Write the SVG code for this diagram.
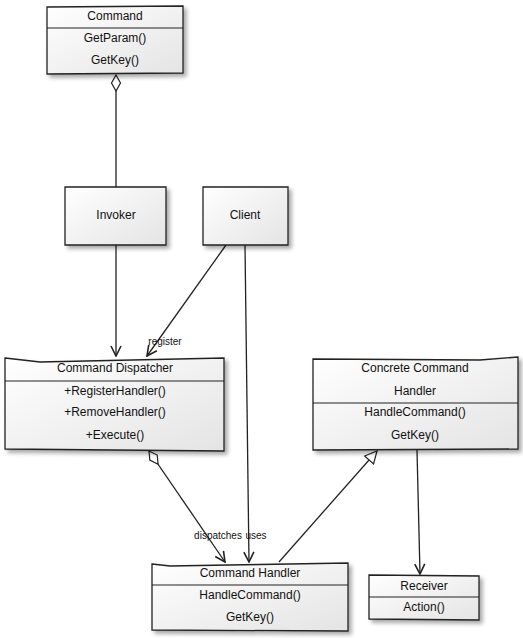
<svg xmlns="http://www.w3.org/2000/svg" width="523" height="638" viewBox="0 0 523 638">
<defs>
<linearGradient id="g" x1="0" y1="0" x2="1" y2="1">
<stop offset="0" stop-color="#ffffff"/>
<stop offset="1" stop-color="#e4e4e4"/>
</linearGradient>
<filter id="sh" x="-10%" y="-10%" width="130%" height="130%">
<feGaussianBlur in="SourceAlpha" stdDeviation="2"/>
<feOffset dx="3" dy="3"/>
<feComponentTransfer><feFuncA type="linear" slope="0.35"/></feComponentTransfer>
<feMerge><feMergeNode/><feMergeNode in="SourceGraphic"/></feMerge>
</filter>
<marker id="arr" viewBox="0 0 12 12" refX="11" refY="6" markerWidth="12" markerHeight="12" markerUnits="userSpaceOnUse" orient="auto">
<path d="M1,1 L11,6 L1,11" fill="none" stroke="#222" stroke-width="1.6"/>
</marker>
<marker id="tri" viewBox="0 0 14 14" refX="13" refY="7" markerWidth="14" markerHeight="14" markerUnits="userSpaceOnUse" orient="auto">
<path d="M1,1 L13,7 L1,13 Z" fill="#fff" stroke="#222" stroke-width="1.2"/>
</marker>
<marker id="dia" viewBox="0 0 20 12" refX="1" refY="6" markerWidth="20" markerHeight="12" markerUnits="userSpaceOnUse" orient="auto">
<path d="M1,6 L9,1.5 L17,6 L9,10.5 Z" fill="#fff" stroke="#222" stroke-width="1.2"/>
</marker>
</defs>
<style>
.box{fill:url(#g);stroke:#222;stroke-width:1.3;filter:url(#sh)}
.sep{stroke:#222;stroke-width:1.2}
text{font-family:"Liberation Sans","DejaVu Sans",sans-serif;font-size:12px;fill:#111;text-anchor:middle}
.lbl{font-size:10px}
.edge{fill:none;stroke:#222;stroke-width:1.3}
</style>
<g id="connectors">
<path class="edge" d="M116,75 L116,187" marker-start="url(#dia)"/>
<path class="edge" d="M116,245 L116,356" marker-end="url(#arr)"/>
<path class="edge" d="M226,245 L147,356" marker-end="url(#arr)"/>
<path class="edge" d="M245,245 L249,562" marker-end="url(#arr)"/>
<path class="edge" d="M149,451 L225,562" marker-start="url(#dia)" marker-end="url(#arr)"/>
<path class="edge" d="M279,562 L377,451" marker-end="url(#tri)"/>
<path class="edge" d="M417,450 L420,574" marker-end="url(#arr)"/>
<text class="lbl" x="165" y="345">register</text>
<text class="lbl" x="218" y="539">dispatches</text>
<text class="lbl" x="256" y="539">uses</text>
</g>
<g id="command">
<path class="box" d="M47,7 L183,6 L183,73 L47,74 Z"/>
<line class="sep" x1="47" y1="28" x2="183" y2="28"/>
<text x="115" y="20">Command</text>
<text x="115" y="42">GetParam()</text>
<text x="115" y="64">GetKey()</text>
</g>
<g id="invoker">
<path class="box" d="M65,187 L166,187 L166,245 L65,245 Z"/>
<text x="116" y="219">Invoker</text>
</g>
<g id="client">
<path class="box" d="M203,187 L288,187 L288,245 L203,245 Z"/>
<text x="245" y="219">Client</text>
</g>
<g id="dispatcher">
<path class="box" d="M5,358 L40,362 L224,358 L224,451 L5,449 Z"/>
<line class="sep" x1="5" y1="381" x2="224" y2="381"/>
<text x="115" y="372">Command Dispatcher</text>
<text x="115" y="395">+RegisterHandler()</text>
<text x="115" y="416">+RemoveHandler()</text>
<text x="115" y="439">+Execute()</text>
</g>
<g id="concrete">
<path class="box" d="M313,359 L480,360 L518,357 L518,449 L313,450 Z"/>
<line class="sep" x1="313" y1="403" x2="518" y2="403"/>
<text x="415" y="372">Concrete Command</text>
<text x="415" y="395">Handler</text>
<text x="415" y="416">HandleCommand()</text>
<text x="415" y="439">GetKey()</text>
</g>
<g id="handler">
<path class="box" d="M152,564 L170,566 L348,563 L348,631 L152,630 Z"/>
<line class="sep" x1="152" y1="585" x2="348" y2="585"/>
<text x="250" y="577">Command Handler</text>
<text x="250" y="599">HandleCommand()</text>
<text x="250" y="621">GetKey()</text>
</g>
<g id="receiver">
<path class="box" d="M369,575 L479,576 L479,620 L369,619 Z"/>
<line class="sep" x1="369" y1="597" x2="479" y2="597"/>
<text x="424" y="590">Receiver</text>
<text x="424" y="611">Action()</text>
</g>
</svg>
